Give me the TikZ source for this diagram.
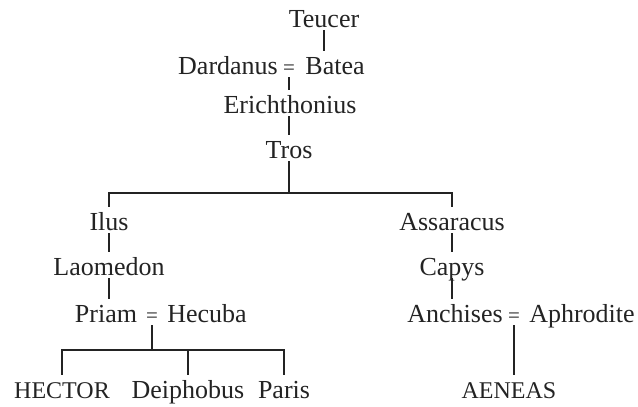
\documentclass[tikz,border=0pt]{standalone}
\usepackage{fontspec}
\setmainfont{Liberation Serif}

\definecolor{inkColor}{RGB}{35,35,35}

\tikzset{
  person/.style={anchor=base, inner sep=1pt, text height=22pt, text depth=2pt,
    text=inkColor, font=\fontsize{26}{30}\selectfont},
  heir/.style={person, font=\fontsize{24}{28}\selectfont},
  wed/.style={person, font=\fontsize{21}{24}\selectfont},
  kin/.style={draw=inkColor, line width=1.3pt},
}

\begin{document}
\begin{tikzpicture}[x=1pt, y=-1pt]
  \useasboundingbox (0,0) rectangle (638,407);
  % Top line
  \node[person] (teucer) at (324,27) {Teucer};
  \node[person] (dardanus) at (228,74) {Dardanus};
  \node[wed] (eqA) at (289,74) {=};
  \node[person] (batea) at (335,74) {Batea};
  \node[person] (erich) at (290,113) {Erichthonius};
  \node[person] (tros) at (289,158) {Tros};
  \coordinate (trosJoin) at (289,193);
  % Ilus branch
  \node[person] (ilus) at (109,230) {Ilus};
  \node[person] (laomedon) at (109,275) {Laomedon};
  \node[person] (priam) at (106,322) {Priam};
  \node[wed] (eqB) at (152,322) {=};
  \node[person] (hecuba) at (207,322) {Hecuba};
  \coordinate (priamJoin) at (152,350);
  \node[heir] (hector) at (62,398) {HECTOR};
  \node[person] (deiphobus) at (188,398) {Deiphobus};
  \node[person] (paris) at (284,398) {Paris};
  % Assaracus branch
  \node[person] (assaracus) at (452,230) {Assaracus};
  \node[person] (capys) at (452,275) {Capys};
  \node[person] (anchises) at (455,322) {Anchises};
  \node[wed] (eqC) at (514,322) {=};
  \node[person] (aphrodite) at (582,322) {Aphrodite};
  \node[heir] (aeneas) at (509,398) {AENEAS};
  % Lines
  \draw[kin] (teucer.south) -- (teucer.south |- batea.north);
  \draw[kin] (eqA.south) -- (eqA.south |- erich.north);
  \draw[kin] (tros.north |- erich.south) -- (tros.north);
  \draw[kin] (tros.south) -- (trosJoin);
  \draw[kin] (ilus.north) |- (trosJoin) -| (assaracus.north);
  \draw[kin] (ilus.south) -- (laomedon.north);
  \draw[kin] (laomedon.south) -- (laomedon.south |- priam.north);
  \draw[kin] (eqB.south) -- (priamJoin);
  \draw[kin] (hector.north) |- (priamJoin) -| (paris.north);
  \draw[kin] (deiphobus.north) -- (deiphobus.north |- priamJoin);
  \draw[kin] (assaracus.south) -- (capys.north);
  \draw[kin] (capys.south) -- (capys.south |- anchises.north);
  \draw[kin] (eqC.south) -- (eqC.south |- aeneas.north);
\end{tikzpicture}
\end{document}
